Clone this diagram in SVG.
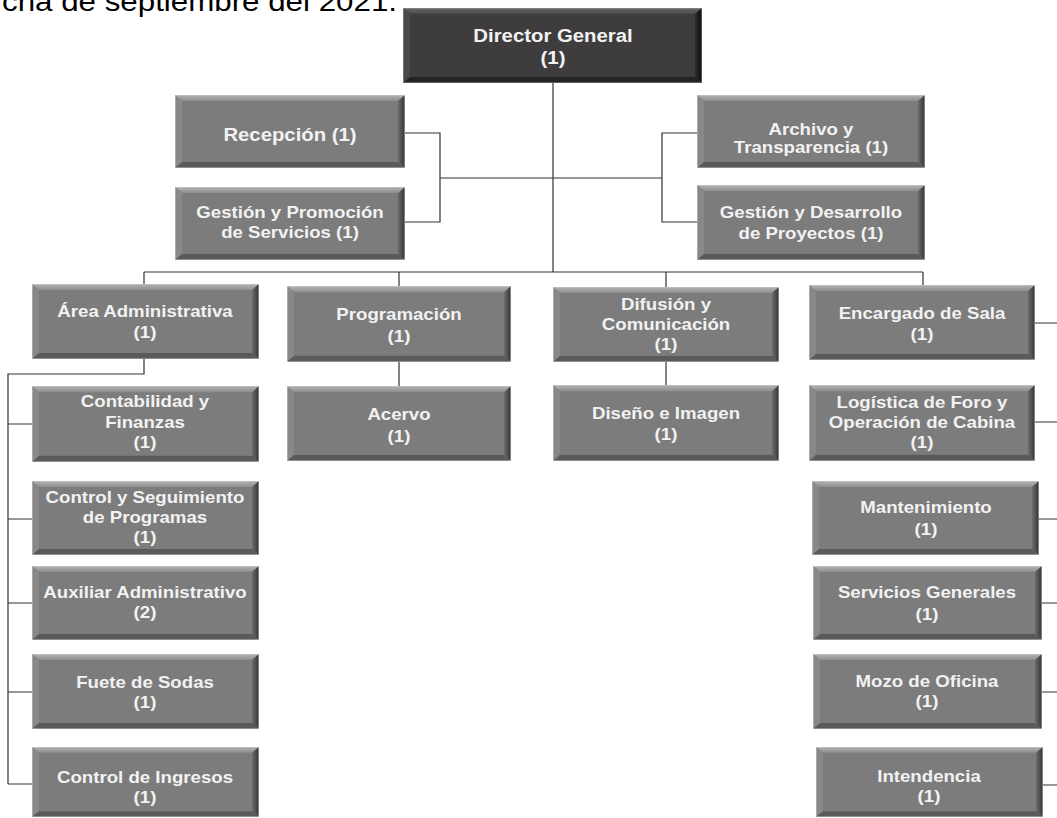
<svg xmlns="http://www.w3.org/2000/svg" xmlns:xlink="http://www.w3.org/1999/xlink" width="1057" height="818" viewBox="0 0 1057 818">
<style>
.t{font-family:"Liberation Sans",Arial,sans-serif;font-weight:bold;font-size:16.5px;fill:#f2f2f2;text-anchor:middle}
.tb{font-size:18px}
.head{font-family:"Liberation Sans",Arial,sans-serif;font-size:28px;fill:#000}
.conn path{fill:none;stroke:#333;stroke-width:1.2}
</style>
<defs>
<linearGradient id="gr" x1="0" y1="0" x2="1" y2="0"><stop offset="0" stop-color="#6e6e6e"/><stop offset="1" stop-color="#333"/></linearGradient>
<linearGradient id="gt" x1="0" y1="0" x2="0" y2="1"><stop offset="0" stop-color="#b4b4b4"/><stop offset="1" stop-color="#8e8e8e"/></linearGradient>
<linearGradient id="grd" x1="0" y1="0" x2="1" y2="0"><stop offset="0" stop-color="#2e2c2d"/><stop offset="1" stop-color="#0e0e0e"/></linearGradient>
<linearGradient id="gtd" x1="0" y1="0" x2="0" y2="1"><stop offset="0" stop-color="#6a6868"/><stop offset="1" stop-color="#4a4849"/></linearGradient>
<symbol id="box" viewBox="0 0 226 74" preserveAspectRatio="none">
<rect x="0" y="0" width="226" height="74" fill="#7c7c7c"/>
<polygon points="0,0 226,0 219,6 7,6" fill="url(#gt)"/>
<polygon points="0,0 7,6 7,68 0,74" fill="#888"/>
<polygon points="226,0 219,6 219,68 226,74" fill="url(#gr)"/>
<polygon points="0,74 226,74 219,68 7,68" fill="#5a5a5a"/>
<rect x="0" y="0" width="226" height="74" fill="none" stroke="#c8c8c8" stroke-width="1" vector-effect="non-scaling-stroke"/>
</symbol>
<symbol id="boxd" viewBox="0 0 299 75" preserveAspectRatio="none">
<rect x="0" y="0" width="299" height="75" fill="#3e3c3d"/>
<polygon points="0,0 299,0 292,6 7,6" fill="url(#gtd)"/>
<polygon points="0,0 7,6 7,69 0,75" fill="#4a4849"/>
<polygon points="299,0 292,6 292,69 299,75" fill="url(#grd)"/>
<polygon points="0,75 299,75 292,69 7,69" fill="#252425"/>
<rect x="0" y="0" width="299" height="75" fill="none" stroke="#9a9a9a" stroke-width="1" vector-effect="non-scaling-stroke"/>
</symbol>
</defs>
<rect width="1057" height="818" fill="#fff"/>
<text class="head" x="2" y="11" textLength="395" lengthAdjust="spacingAndGlyphs">cha de septiembre del 2021.</text>

<g class="conn" id="connectors">
<path d="M553 83V272"/>
<path d="M405 133H440V222H405M440 178H662M697 133H662V222H697"/>
<path d="M144 272H923M144 272V284M399 272V286M666 272V287M923 272V285"/>
<path d="M399 362V386M666 362V385"/>
<path d="M144 359V374H8V784M8 424H32M8 519H32M8 603H32M8 692H32M8 784H32"/>
<path d="M1035 323H1057M1035 422H1057M1039 519H1057M1042 603H1057M1042 692H1057M1043 785H1057"/>
</g>

<g id="n-director"><use xlink:href="#boxd" x="403" y="8" width="299" height="75"/>
<text class="t tb" transform="translate(553 0) scale(1.13 1)"><tspan x="0" y="42">Director General</tspan><tspan x="0" y="64">(1)</tspan></text></g>

<g id="n-recepcion"><use xlink:href="#box" x="175" y="95" width="230" height="73"/>
<text class="t tb" transform="translate(290 0) scale(1.13 1)"><tspan x="0" y="141">Recepción (1)</tspan></text></g>

<g id="n-gestion-promocion"><use xlink:href="#box" x="175" y="187" width="230" height="73"/>
<text class="t" transform="translate(290 0) scale(1.13 1)"><tspan x="0" y="218">Gestión y Promoción</tspan><tspan x="0" y="238">de Servicios (1)</tspan></text></g>

<g id="n-archivo"><use xlink:href="#box" x="697" y="95" width="228" height="73"/>
<text class="t" transform="translate(811 0) scale(1.13 1)"><tspan x="0" y="135">Archivo y</tspan><tspan x="0" y="153">Transparencia (1)</tspan></text></g>

<g id="n-gestion-desarrollo"><use xlink:href="#box" x="697" y="185" width="228" height="75"/>
<text class="t" transform="translate(811 0) scale(1.13 1)"><tspan x="0" y="218">Gestión y Desarrollo</tspan><tspan x="0" y="239">de Proyectos (1)</tspan></text></g>

<g id="n-area-admin"><use xlink:href="#box" x="32" y="284" width="227" height="75"/>
<text class="t" transform="translate(145 0) scale(1.13 1)"><tspan x="0" y="317">Área Administrativa</tspan><tspan x="0" y="338">(1)</tspan></text></g>

<g id="n-programacion"><use xlink:href="#box" x="287" y="286" width="224" height="76"/>
<text class="t" transform="translate(399 0) scale(1.13 1)"><tspan x="0" y="320">Programación</tspan><tspan x="0" y="342">(1)</tspan></text></g>

<g id="n-difusion"><use xlink:href="#box" x="553" y="287" width="226" height="75"/>
<text class="t" transform="translate(666 0) scale(1.13 1)"><tspan x="0" y="310">Difusión y</tspan><tspan x="0" y="330">Comunicación</tspan><tspan x="0" y="350">(1)</tspan></text></g>

<g id="n-encargado"><use xlink:href="#box" x="809" y="285" width="226" height="75"/>
<text class="t" transform="translate(922 0) scale(1.13 1)"><tspan x="0" y="319">Encargado de Sala</tspan><tspan x="0" y="340">(1)</tspan></text></g>

<g id="n-acervo"><use xlink:href="#box" x="287" y="386" width="224" height="75"/>
<text class="t" transform="translate(399 0) scale(1.13 1)"><tspan x="0" y="420">Acervo</tspan><tspan x="0" y="442">(1)</tspan></text></g>

<g id="n-diseno"><use xlink:href="#box" x="553" y="385" width="226" height="76"/>
<text class="t" transform="translate(666 0) scale(1.13 1)"><tspan x="0" y="419">Diseño e Imagen</tspan><tspan x="0" y="440">(1)</tspan></text></g>

<g id="n-logistica"><use xlink:href="#box" x="809" y="385" width="226" height="76"/>
<text class="t" transform="translate(922 0) scale(1.13 1)"><tspan x="0" y="408">Logística de Foro y</tspan><tspan x="0" y="428">Operación de Cabina</tspan><tspan x="0" y="448">(1)</tspan></text></g>

<g id="n-contabilidad"><use xlink:href="#box" x="32" y="386" width="227" height="76"/>
<text class="t" transform="translate(145 0) scale(1.13 1)"><tspan x="0" y="407">Contabilidad y</tspan><tspan x="0" y="428">Finanzas</tspan><tspan x="0" y="448">(1)</tspan></text></g>

<g id="n-control-seguimiento"><use xlink:href="#box" x="32" y="481" width="227" height="74"/>
<text class="t" transform="translate(145 0) scale(1.13 1)"><tspan x="0" y="503">Control y Seguimiento</tspan><tspan x="0" y="523">de Programas</tspan><tspan x="0" y="543">(1)</tspan></text></g>

<g id="n-auxiliar"><use xlink:href="#box" x="32" y="566" width="227" height="74"/>
<text class="t" transform="translate(145 0) scale(1.13 1)"><tspan x="0" y="598">Auxiliar Administrativo</tspan><tspan x="0" y="618">(2)</tspan></text></g>

<g id="n-fuete"><use xlink:href="#box" x="32" y="654" width="227" height="75"/>
<text class="t" transform="translate(145 0) scale(1.13 1)"><tspan x="0" y="688">Fuete de Sodas</tspan><tspan x="0" y="708">(1)</tspan></text></g>

<g id="n-control-ingresos"><use xlink:href="#box" x="32" y="747" width="227" height="70"/>
<text class="t" transform="translate(145 0) scale(1.13 1)"><tspan x="0" y="783">Control de Ingresos</tspan><tspan x="0" y="803">(1)</tspan></text></g>

<g id="n-mantenimiento"><use xlink:href="#box" x="812" y="481" width="227" height="74"/>
<text class="t" transform="translate(926 0) scale(1.13 1)"><tspan x="0" y="513">Mantenimiento</tspan><tspan x="0" y="535">(1)</tspan></text></g>

<g id="n-servicios"><use xlink:href="#box" x="813" y="566" width="229" height="74"/>
<text class="t" transform="translate(927 0) scale(1.13 1)"><tspan x="0" y="598">Servicios Generales</tspan><tspan x="0" y="620">(1)</tspan></text></g>

<g id="n-mozo"><use xlink:href="#box" x="813" y="654" width="229" height="75"/>
<text class="t" transform="translate(927 0) scale(1.13 1)"><tspan x="0" y="687">Mozo de Oficina</tspan><tspan x="0" y="707">(1)</tspan></text></g>

<g id="n-intendencia"><use xlink:href="#box" x="816" y="747" width="227" height="70"/>
<text class="t" transform="translate(929 0) scale(1.13 1)"><tspan x="0" y="782">Intendencia</tspan><tspan x="0" y="802">(1)</tspan></text></g>
</svg>
